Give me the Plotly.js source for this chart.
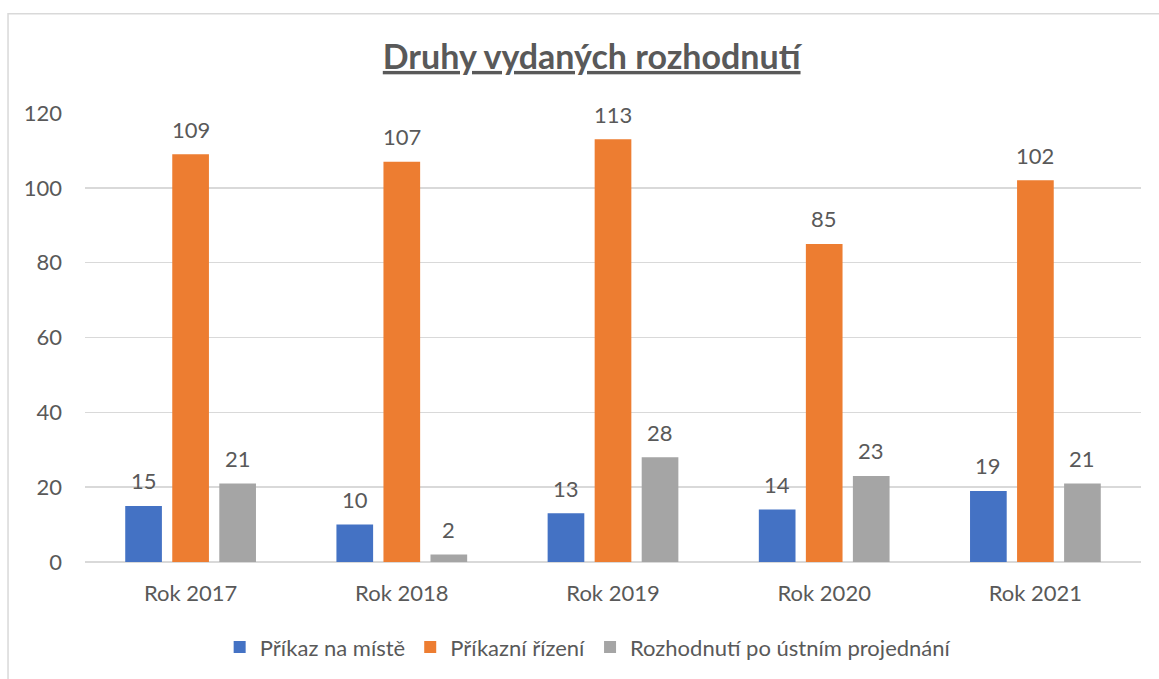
<!DOCTYPE html>
<html><head><meta charset="utf-8">
<script src="https://cdn.plot.ly/plotly-3.0.1.min.js"></script>
<style>html,body{margin:0;padding:0;background:#fff}#chart{width:1159px;height:679px}</style>
</head><body><div id="chart"></div>
<script>
const categories = ["Rok 2017", "Rok 2018", "Rok 2019", "Rok 2020", "Rok 2021"];
const seriesNames = ["Příkaz na místě", "Příkazní řízení", "Rozhodnutí po ústním projednání"];
const prikazNaMiste = [15, 10, 13, 14, 19];
const prikazniRizeni = [109, 107, 113, 85, 102];
const rozhodnutiUstni = [21, 2, 28, 23, 21];
const yTicks = [0, 20, 40, 60, 80, 100, 120];
const colors = ["#4472C4", "#ED7D31", "#A5A5A5"];
const FONT = "Lato, 'Open Sans', sans-serif";
const TXT = "#595959";

const W = 1159, H = 679;
const margin = {l: 85, r: 18, t: 113, b: 116};
const bargap = 0.332, bargroupgap = 0.22;

const values = [prikazNaMiste, prikazniRizeni, rozhodnutiUstni];
const traces = values.map((v, i) => ({
  type: "bar",
  name: seriesNames[i],
  x: categories,
  y: v,
  marker: {color: colors[i], line: {width: 0}},
  hoverinfo: "x+y+name"
}));

// data labels: one per bar, shifted to sit over its bar within the group
const plotW = W - margin.l - margin.r;
const slot = plotW / categories.length * (1 - bargap) / values.length;
const annotations = [];
values.forEach((v, i) => {
  v.forEach((val, j) => {
    annotations.push({
      x: categories[j], y: val, xref: "x", yref: "y",
      text: String(val), showarrow: false,
      xshift: (i - (values.length - 1) / 2) * slot,
      yshift: 25, yanchor: "middle", xanchor: "center",
      font: {family: FONT, size: 22, color: TXT}
    });
  });
});

const layout = {
  width: W, height: H,
  margin: margin,
  paper_bgcolor: "#fff", plot_bgcolor: "#fff",
  barmode: "group", bargap: bargap, bargroupgap: bargroupgap,
  title: {text: "<b><u>Druhy vydaných rozhodnutí</u></b>", x: 0.5105, xanchor: "center", y: 0.916, yanchor: "middle",
          font: {family: FONT, size: 34, color: TXT}},
  font: {family: FONT, color: TXT},
  xaxis: {type: "category", tickfont: {family: FONT, size: 22, color: TXT}, ticks: "", showline: false,
          showgrid: false, zeroline: false, ticklabelstandoff: 16},
  yaxis: {range: [0, 120], tickvals: yTicks, ticktext: yTicks.map(String), showgrid: true, gridcolor: "#D9D9D9",
          gridwidth: 1.5, zeroline: true, zerolinecolor: "#D9D9D9", zerolinewidth: 1.5, showline: false, ticks: "",
          tickfont: {family: FONT, size: 22, color: TXT}, ticklabelstandoff: 22},
  legend: {orientation: "h", x: 0.476, xanchor: "center", y: -0.187, yanchor: "middle",
           font: {family: FONT, size: 22, color: TXT}, itemwidth: 30, traceorder: "normal"},
  annotations: annotations,
  shapes: [{type: "rect", xref: "paper", yref: "paper", x0: -0.0729, x1: 1.2, y0: -0.5, y1: 1.2208,
            line: {color: "#D9D9D9", width: 1.5}, fillcolor: "rgba(0,0,0,0)", layer: "below"}],
  showlegend: true
};

Plotly.newPlot("chart", traces, layout, {displayModeBar: false, staticPlot: true});
</script></body></html>
